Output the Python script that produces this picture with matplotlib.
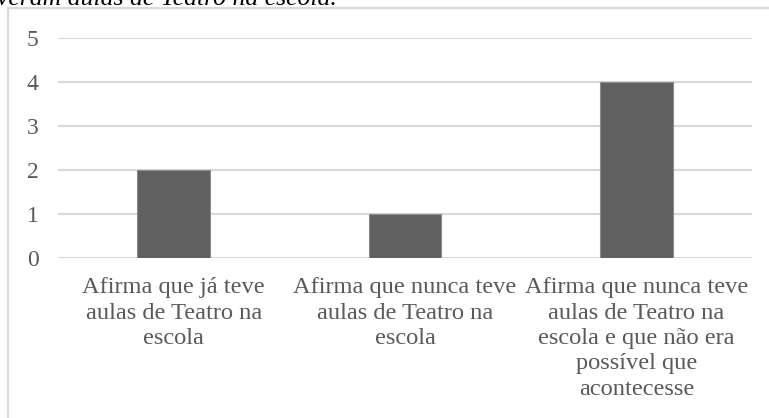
import matplotlib.pyplot as plt
from matplotlib.patches import Rectangle

# Data
categories = [
    'Afirma que já teve\naulas de Teatro na\nescola',
    'Afirma que nunca teve\naulas de Teatro na\nescola',
    'Afirma que nunca teve\naulas de Teatro na\nescola e que não era\npossível que\nacontecesse',
]
values = [2, 1, 4]
y_ticks = [0, 1, 2, 3, 4, 5]

plt.rcParams['font.family'] = ['Liberation Serif', 'DejaVu Serif']

fig = plt.figure(figsize=(7.69, 4.18), dpi=100)
W, H = 769, 418

# chart border (cropped on right and bottom)
fig.patches.append(Rectangle((8 / W, -0.1), 1.2, 1 - 8 / H + 0.1, transform=fig.transFigure,
                             fill=False, edgecolor='#d9d9d9', linewidth=1.5))

# cropped title line at the top
fig.text(-0.004, 1 - 5 / H, 'veram aulas de Teatro na escola.', fontsize=18.5, style='italic',
         ha='left', va='baseline', color='black')

ax = fig.add_axes([58 / W, 1 - 258 / H, (752 - 58) / W, (258 - 38) / H])
x = range(len(categories))
ax.bar(x, values, width=0.315, color='#606060', edgecolor='#8c8c8c', linewidth=0.8, zorder=3)

ax.set_xlim(-0.5, len(categories) - 0.5)
ax.set_ylim(0, 5)
ax.set_yticks(y_ticks)
ax.set_xticks(list(x))
ax.set_xticklabels(categories, fontsize=17.6, color='#595959', linespacing=1.27)
ax.tick_params(axis='y', length=0, pad=14, labelsize=17, labelcolor='#595959')
ax.tick_params(axis='x', length=0, pad=14)
ax.grid(axis='y', color='#d9d9d9', linewidth=1.5, zorder=0)
for s in ax.spines.values():
    s.set_visible(False)

fig.savefig('out.png', dpi=100)
